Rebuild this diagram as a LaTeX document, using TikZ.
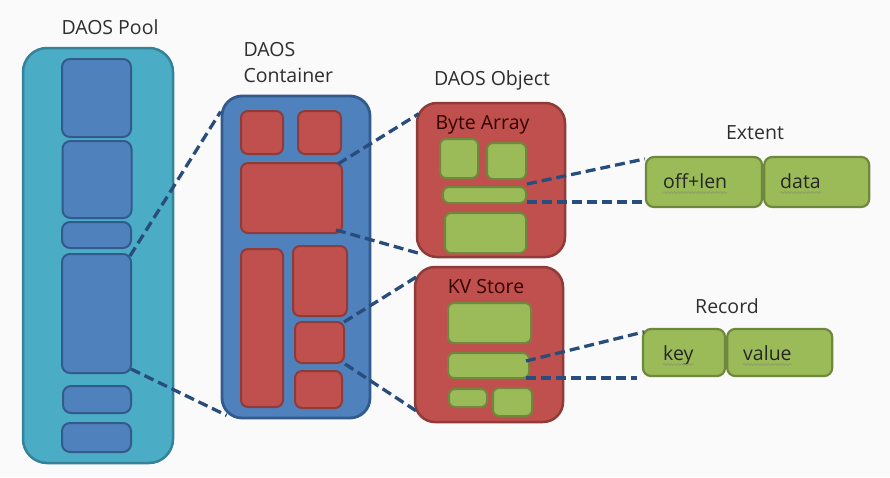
\documentclass[tikz,border=0pt]{standalone}
\usepackage{fontspec}
\setmainfont{Open Sans}
\usetikzlibrary{positioning,decorations.pathmorphing}
\definecolor{poolfill}{HTML}{4BACC6}
\definecolor{pooledge}{HTML}{35839A}
\definecolor{bluefill}{HTML}{4F81BD}
\definecolor{blueedge}{HTML}{335A8C}
\definecolor{redfill}{HTML}{C0504D}
\definecolor{rededge}{HTML}{8E3B39}
\definecolor{greenfill}{HTML}{9BBB59}
\definecolor{greenedge}{HTML}{6F883D}
\definecolor{linkblue}{HTML}{284C7C}
\definecolor{labeltext}{HTML}{2E2E2E}
\definecolor{pagebg}{HTML}{FAFAFA}
\begin{document}
\begin{tikzpicture}[
    x=1pt, y=-1pt,
    every node/.style={font=\fontsize{19.5}{26}\selectfont, text=labeltext},
    sz/.style 2 args={minimum width=#1pt, minimum height=#2pt, inner sep=0pt},
    poolbox/.style={draw=pooledge, fill=poolfill, line width=2.5pt, rounded corners=24pt},
    contbox/.style={draw=blueedge, fill=bluefill, line width=2.8pt, rounded corners=20pt},
    objbox/.style={draw=rededge, fill=redfill, line width=2.5pt, rounded corners=20pt},
    blueblk/.style={draw=blueedge, fill=bluefill, line width=2pt, rounded corners=8pt},
    redblk/.style={draw=rededge, fill=redfill, line width=2pt, rounded corners=7pt},
    greenblk/.style={draw=greenedge, fill=greenfill, line width=2pt, rounded corners=6pt},
    field/.style={draw=greenedge, fill=greenfill, line width=2.2pt, rounded corners=8pt},
    fieldtxt/.style={inner sep=0pt, text=black!85},
    objtxt/.style={text=black!80!red},
    link/.style={draw=linkblue, line width=3.3pt, dash pattern=on 10pt off 5pt},
    squig/.style={draw=greenedge!80, line width=0.8pt, decorate,
        decoration={snake, amplitude=0.9pt, segment length=3.5pt}}
]
\useasboundingbox[fill=pagebg] (0,0) rectangle (890,477);

% pool
\node[poolbox, sz={150}{415}] (pool) at (98,255.5) {};
\node[blueblk, sz={69}{78}] (p1) at (96.5,98) {};
\node[blueblk, sz={69}{77}] (p2) at (97,179.5) {};
\node[blueblk, sz={69}{26}] (p3) at (96.5,235) {};
\node[blueblk, sz={69}{119}] (p4) at (96.5,313.5) {};
\node[blueblk, sz={68}{27}] (p5) at (97,399.5) {};
\node[blueblk, sz={69}{29}] (p6) at (96.5,437.5) {};
\node (poollbl) at (110,27) {DAOS Pool};

% container
\node[contbox, sz={148}{322}] (cont) at (296,257) {};
\node[redblk, sz={42}{43}] (r1) at (262,132.5) {};
\node[redblk, sz={43}{43}] (r2) at (319.5,132.5) {};
\node[redblk, sz={101}{70}] (r3) at (291.5,198) {};
\node[redblk, sz={42}{158}] (r4) at (262,328) {};
\node[redblk, sz={54}{70}] (r5) at (320,281) {};
\node[redblk, sz={49}{41}] (r6) at (319.5,342.5) {};
\node[redblk, sz={47}{37}] (r7) at (318.5,389.5) {};
\node[anchor=west, align=left] (contlbl) at (240,63) {DAOS\\Container};

% objects
\node (objlbl) at (492,80) {DAOS Object};
\node[objbox, sz={148}{154}] (ba) at (491,180) {};
\node[objtxt] (balbl) at (482.5,125) {Byte Array};
\node[greenblk, sz={38}{39}] (g1) at (459,158.5) {};
\node[greenblk, sz={39}{36}] (g2) at (506.5,161) {};
\node[greenblk, sz={83}{16}] (g3) at (484.5,195) {};
\node[greenblk, sz={81}{40}] (g4) at (485.5,233) {};

\node[objbox, sz={148}{155}] (kv) at (489,344.5) {};
\node[objtxt] (kvlbl) at (486,287) {KV Store};
\node[greenblk, sz={83}{40}] (k1) at (489.5,323) {};
\node[greenblk, sz={81}{25}] (k2) at (488.5,365.5) {};
\node[greenblk, sz={38}{18}] (k3) at (468,398) {};
\node[greenblk, sz={39}{28}] (k4) at (512.5,402) {};

% extent and record
\node (extlbl) at (755,133) {Extent};
\node[field, sz={116}{50}] (offlen) at (704,182) {};
\node[field, sz={105}{50}, right=0pt of offlen] (data) {};
\node[fieldtxt, anchor=base west] (offlentxt) at (663,188) {off+len};
\node[fieldtxt, anchor=base west] (datatxt) at (780,188) {data};

\node (reclbl) at (727,306) {Record};
\node[field, sz={82}{47}] (key) at (684,352.5) {};
\node[field, sz={105}{47}, right=0pt of key] (value) {};
\node[fieldtxt, anchor=base west] (keytxt) at (663,360) {key};
\node[fieldtxt, anchor=base west] (valuetxt) at (743,360) {value};

\foreach \t in {offlentxt, datatxt, keytxt, valuetxt}
    \draw[squig] ([yshift=-4.5pt]\t.base west) -- ([yshift=-4.5pt]\t.base east);

% dashed links
\draw[link] ([xshift=-2pt,yshift=-3pt]p4.north east) -- ([yshift=-17pt]cont.north west);
\draw[link] ([xshift=-1pt,yshift=5pt]p4.south east) -- ([xshift=6pt,yshift=4pt]cont.south west);
\draw[link] ([xshift=-5pt,yshift=-2pt]r3.north east) -- ([xshift=3pt,yshift=-12pt]ba.north west);
\draw[link] ([xshift=-7pt,yshift=4pt]r3.south east) -- ([xshift=3pt,yshift=5pt]ba.south west);
\draw[link] ([xshift=-1pt,yshift=-1pt]r6.north east) -- ([xshift=3pt,yshift=-11pt]kv.north west);
\draw[link] (r6.south east) -- ([xshift=3pt,yshift=12pt]kv.south west);
\draw[link] ([yshift=2pt]g3.north east) -- ([yshift=-3pt]offlen.north west);
\draw[link] ([yshift=2pt]g3.south east) -- ([yshift=2pt]g3.south east -| offlen.west);
\draw[link] ([xshift=-4pt,yshift=-9pt]k2.north east) -- ([xshift=2pt,yshift=-4pt]key.north west);
\draw[link] ([xshift=-4pt,yshift=1pt]k2.south east) -- ([xshift=-5pt,yshift=1pt]k2.south east -| key.west);
\end{tikzpicture}
\end{document}
